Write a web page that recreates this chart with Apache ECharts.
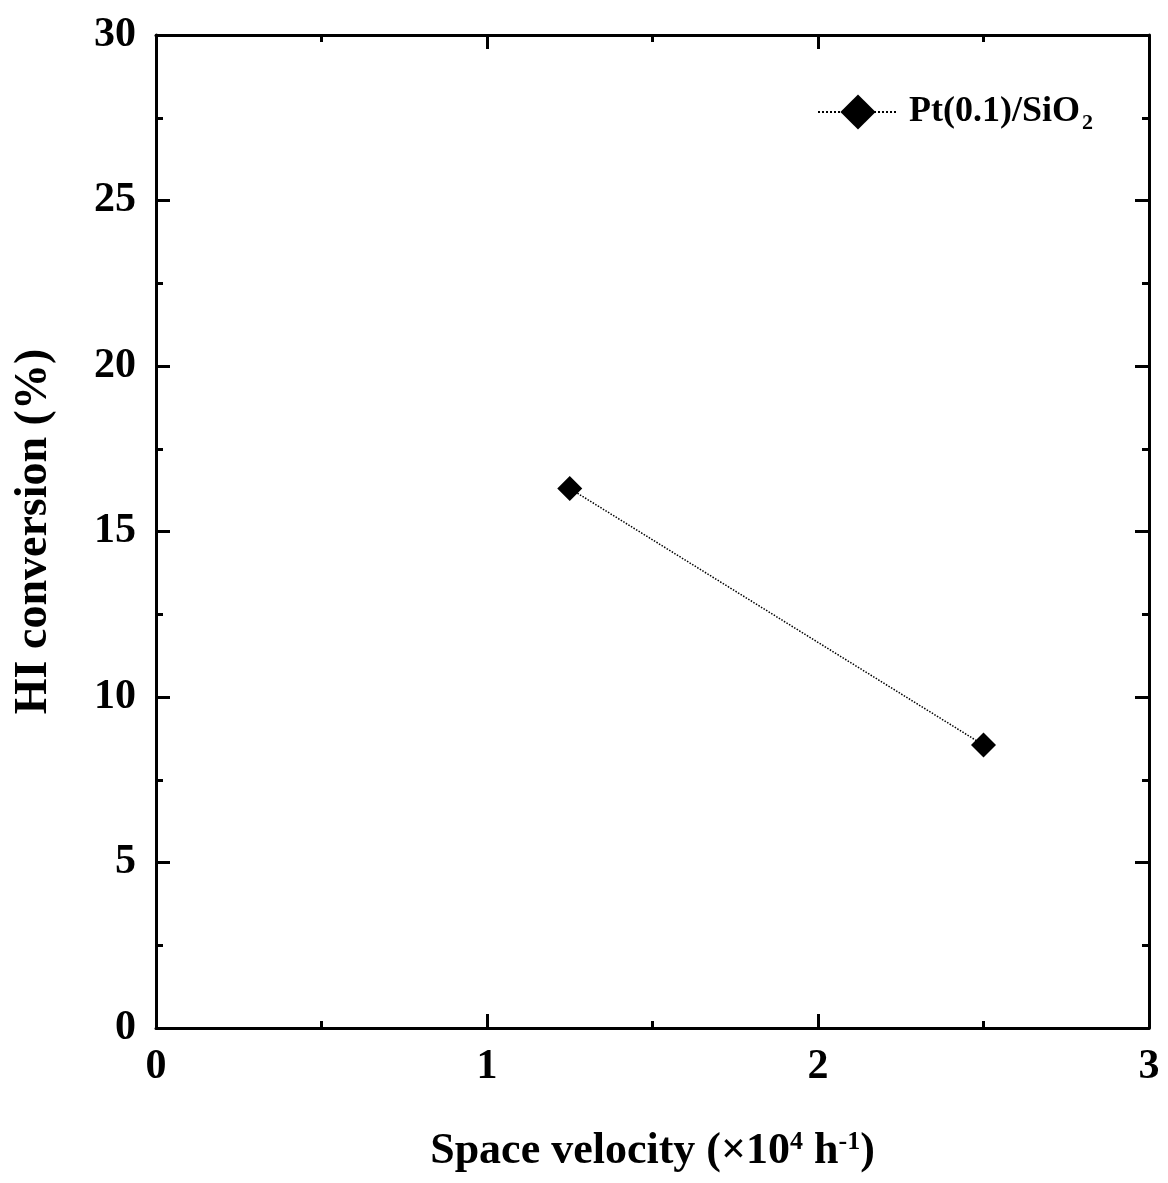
<!DOCTYPE html>
<html>
<head>
<meta charset="utf-8">
<script src="https://cdn.jsdelivr.net/npm/echarts@6/dist/echarts.min.js"></script>
<style>html,body{margin:0;padding:0;background:#fff}#c{width:1168px;height:1183px}</style>
</head>
<body>
<div id="c"></div>
<script>
const seriesName = 'Pt(0.1)/SiO2';
const spaceVelocity = [1.25, 2.5];
const hiConversion = [16.3, 8.55];
const xTicks = [0, 1, 2, 3];
const yTicks = [0, 5, 10, 15, 20, 25, 30];

const chart = echarts.init(document.getElementById('c'));
const font = 'Liberation Serif';
const axisCommon = {
  axisLine: { show: true, onZero: false, lineStyle: { color: '#000', width: 3 } },
  axisTick: { show: true, inside: true, length: 14, lineStyle: { color: '#000', width: 3 } },
  minorTick: { show: true, splitNumber: 2, length: 7, lineStyle: { color: '#000', width: 3 } },
  splitLine: { show: false }
};
chart.setOption({
  animation: false,
  backgroundColor: '#fff',
  grid: { left: 156, right: 19, top: 35, bottom: 155, containLabel: false },
  legend: {
    left: 817, top: 94, padding: 0,
    itemWidth: 80, itemHeight: 44,
    data: [{ name: seriesName }],
    formatter: () => '{a|Pt(0.1)/SiO}{s|2}',
    textStyle: {
      fontFamily: font, fontWeight: 'bold', color: '#000',
      rich: {
        a: { fontFamily: font, fontWeight: 'bold', fontSize: 36, color: '#000', padding: [0, 0, 0, 6] },
        s: { fontFamily: font, fontWeight: 'bold', fontSize: 22, color: '#000', padding: [22, 0, 0, 2] }
      }
    }
  },
  xAxis: [
    Object.assign({}, axisCommon, {
      type: 'value', min: 0, max: 3, interval: 1, position: 'bottom',
      axisLabel: { show: true, margin: 18, fontFamily: font, fontWeight: 'bold', fontSize: 42, color: '#000',
        customValues: xTicks },
      name: '{a|Space velocity (×10}{s|4}{a| h}{s|-1}{a|)}',
      nameLocation: 'middle', nameGap: 101,
      nameTextStyle: {
        rich: {
          a: { fontFamily: font, fontWeight: 'bold', fontSize: 44, color: '#000' },
          s: { fontFamily: font, fontWeight: 'bold', fontSize: 26, color: '#000', padding: [0, 0, 19, 0] }
        }
      }
    }),
    Object.assign({}, axisCommon, {
      type: 'value', min: 0, max: 3, interval: 1, position: 'top',
      axisLabel: { show: false }
    })
  ],
  yAxis: [
    Object.assign({}, axisCommon, {
      type: 'value', min: 0, max: 30, interval: 5, position: 'left',
      axisLabel: { show: true, margin: 20, fontFamily: font, fontWeight: 'bold', fontSize: 42, color: '#000',
        customValues: yTicks },
      name: 'HI conversion (%)',
      nameLocation: 'middle', nameGap: 99, nameRotate: 90,
      nameTextStyle: { fontFamily: font, fontWeight: 'bold', fontSize: 46, color: '#000' }
    }),
    Object.assign({}, axisCommon, {
      type: 'value', min: 0, max: 30, interval: 5, position: 'right',
      axisLabel: { show: false }
    })
  ],
  series: [{
    name: seriesName,
    type: 'line',
    xAxisIndex: 0, yAxisIndex: 0,
    data: spaceVelocity.map((x, i) => [x, hiConversion[i]]),
    symbol: 'diamond',
    symbolSize: 25,
    itemStyle: { color: '#000' },
    lineStyle: { color: '#000', width: 1.5, type: 'dotted' },
    emphasis: { disabled: true }
  }]
});
</script>
</body>
</html>
